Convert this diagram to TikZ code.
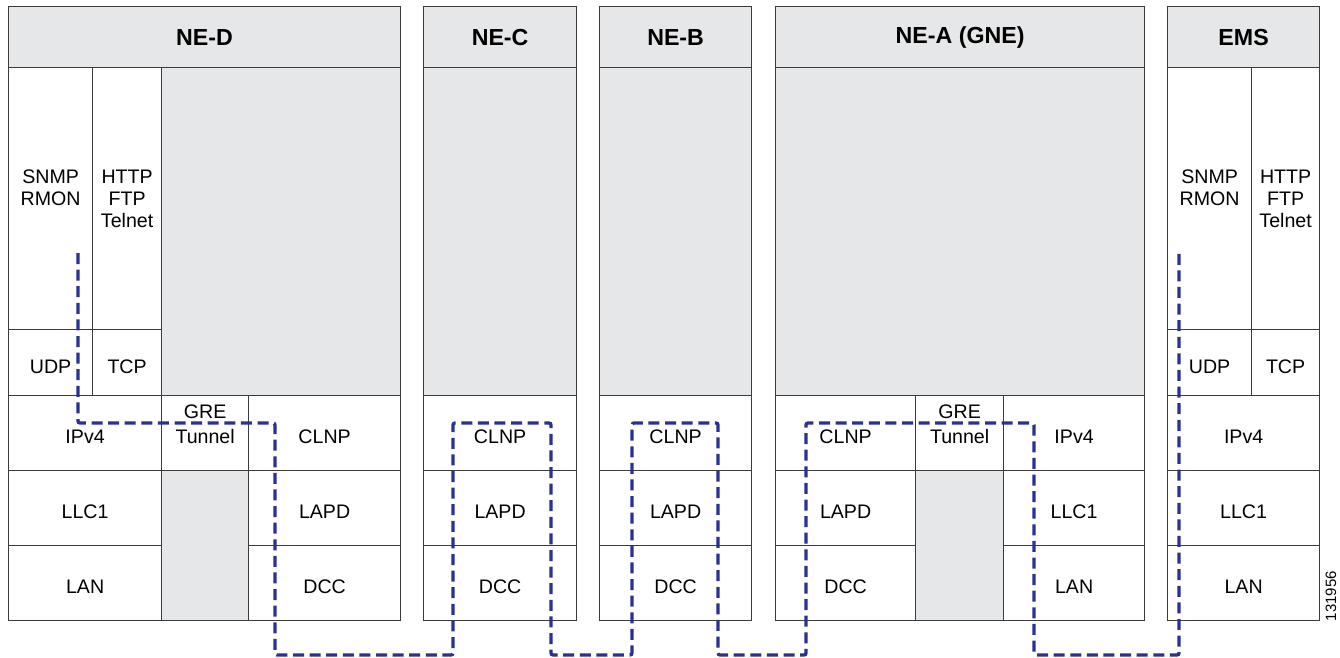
\documentclass[tikz,border=0pt]{standalone}
\usepackage{fontspec}
\setmainfont{Liberation Sans}
\usetikzlibrary{positioning}
\definecolor{cellgray}{RGB}{230,231,232}
\definecolor{edgegray}{RGB}{60,60,60}
\definecolor{pathblue}{RGB}{43,49,146}
\tikzset{
  wh/.style 2 args={minimum width=#1*0.5pt, minimum height=#2*0.5pt},
  box/.style={draw=edgegray, fill=white, line width=0.6pt, inner sep=0pt,
      anchor=north west, align=center, font=\fontsize{9.8}{11}\selectfont},
  cell/.style={box, text height=10.5pt, text depth=0pt},
  hdcell/.style={box, fill=cellgray, font=\fontsize{11.6}{13}\selectfont\bfseries},
  blank/.style={box, fill=cellgray},
  grecell/.style={box, font=\fontsize{9.8}{12.5}\selectfont},
  pathline/.style={pathblue, line width=1.65pt, dash pattern=on 5.5pt off 2.8pt,
      rounded corners=1pt},
  idlbl/.style={font=\fontsize{7.5}{9}\selectfont, rotate=90},
}

\begin{document}
\begin{tikzpicture}[x=0.5pt, y=-0.5pt]
  \useasboundingbox (0,0) rectangle (1340,658);

  % NE-D
  \node[hdcell, wh={392}{61}] (hdD) at (8,6) {NE-D};
  \node[box, wh={84}{262}] (appD1) at (8,67) {SNMP\\RMON\\\phantom{Telnet}};
  \node[box, wh={69}{262}] (appD2) at (92,67) {HTTP\\FTP\\Telnet};
  \node[blank, wh={239}{328}] (emptyD) at (161,67) {};
  \node[cell, wh={84}{66}] (udpD) at (8,329) {UDP};
  \node[cell, wh={69}{66}] (tcpD) at (92,329) {TCP};
  \node[cell, wh={153}{75}] (ipD) at (8,395) {IPv4};
  \node[grecell, wh={87}{75}] (greD) at (161,395) {GRE\\Tunnel\\[-4pt]\phantom{Tunnel}};
  \node[cell, wh={152}{75}] (clnpD) at (248,395) {CLNP};
  \node[cell, wh={153}{75}] (llcD) at (8,470) {LLC1};
  \node[blank, wh={87}{150}] (gapD) at (161,470) {};
  \node[cell, wh={152}{75}] (lapdD) at (248,470) {LAPD};
  \node[cell, wh={153}{75}] (lanD) at (8,545) {LAN};
  \node[cell, wh={152}{75}] (dccD) at (248,545) {DCC};

  % NE-C
  \node[hdcell, wh={153}{61}] (hdC) at (423,6) {NE-C};
  \node[blank, wh={153}{328}] (emptyC) at (423,67) {};
  \node[cell, wh={153}{75}] (clnpC) at (423,395) {CLNP};
  \node[cell, wh={153}{75}] (lapdC) at (423,470) {LAPD};
  \node[cell, wh={153}{75}] (dccC) at (423,545) {DCC};

  % NE-B
  \node[hdcell, wh={152}{61}] (hdB) at (599,6) {NE-B};
  \node[blank, wh={152}{328}] (emptyB) at (599,67) {};
  \node[cell, wh={152}{75}] (clnpB) at (599,395) {CLNP};
  \node[cell, wh={152}{75}] (lapdB) at (599,470) {LAPD};
  \node[cell, wh={152}{75}] (dccB) at (599,545) {DCC};

  % NE-A (GNE)
  \node[hdcell, wh={369}{61}] (hdA) at (775,6) {NE-A (GNE)};
  \node[blank, wh={369}{328}] (emptyA) at (775,67) {};
  \node[cell, wh={140}{75}] (clnpA) at (775,395) {CLNP};
  \node[grecell, wh={88}{75}] (greA) at (915,395) {GRE\\Tunnel\\[-4pt]\phantom{Tunnel}};
  \node[cell, wh={141}{75}] (ipA) at (1003,395) {IPv4};
  \node[cell, wh={140}{75}] (lapdA) at (775,470) {LAPD};
  \node[blank, wh={88}{150}] (gapA) at (915,470) {};
  \node[cell, wh={141}{75}] (llcA) at (1003,470) {LLC1};
  \node[cell, wh={140}{75}] (dccA) at (775,545) {DCC};
  \node[cell, wh={141}{75}] (lanA) at (1003,545) {LAN};

  % EMS
  \node[hdcell, wh={152}{61}] (hdE) at (1167,6) {EMS};
  \node[box, wh={84}{262}] (appE1) at (1167,67) {SNMP\\RMON\\\phantom{Telnet}};
  \node[box, wh={68}{262}] (appE2) at (1251,67) {HTTP\\FTP\\Telnet};
  \node[cell, wh={84}{66}] (udpE) at (1167,329) {UDP};
  \node[cell, wh={68}{66}] (tcpE) at (1251,329) {TCP};
  \node[cell, wh={152}{75}] (ipE) at (1167,395) {IPv4};
  \node[cell, wh={152}{75}] (llcE) at (1167,470) {LLC1};
  \node[cell, wh={152}{75}] (lanE) at (1167,545) {LAN};

  \node[idlbl] (figid) at (1331,596) {131956};

  % management path
  \coordinate (srcD) at (78,253);
  \coordinate (dstE) at (1179,253);
  \foreach \n/\x/\y in {1/78/423, 2/275/423, 3/275/655, 4/453/655, 5/453/423,
      6/551/423, 7/551/655, 8/632/655, 9/632/423, 10/718/423, 11/718/655,
      12/806/655, 13/806/423, 14/1034/423, 15/1034/655, 16/1179/655}
    \coordinate (c\n) at (\x,\y);
  \draw[pathline] (srcD) -- (c1) -- (c2) -- (c3) -- (c4) -- (c5) -- (c6) -- (c7)
    -- (c8) -- (c9) -- (c10) -- (c11) -- (c12) -- (c13) -- (c14) -- (c15) -- (c16)
    -- (dstE);
\end{tikzpicture}
\end{document}
